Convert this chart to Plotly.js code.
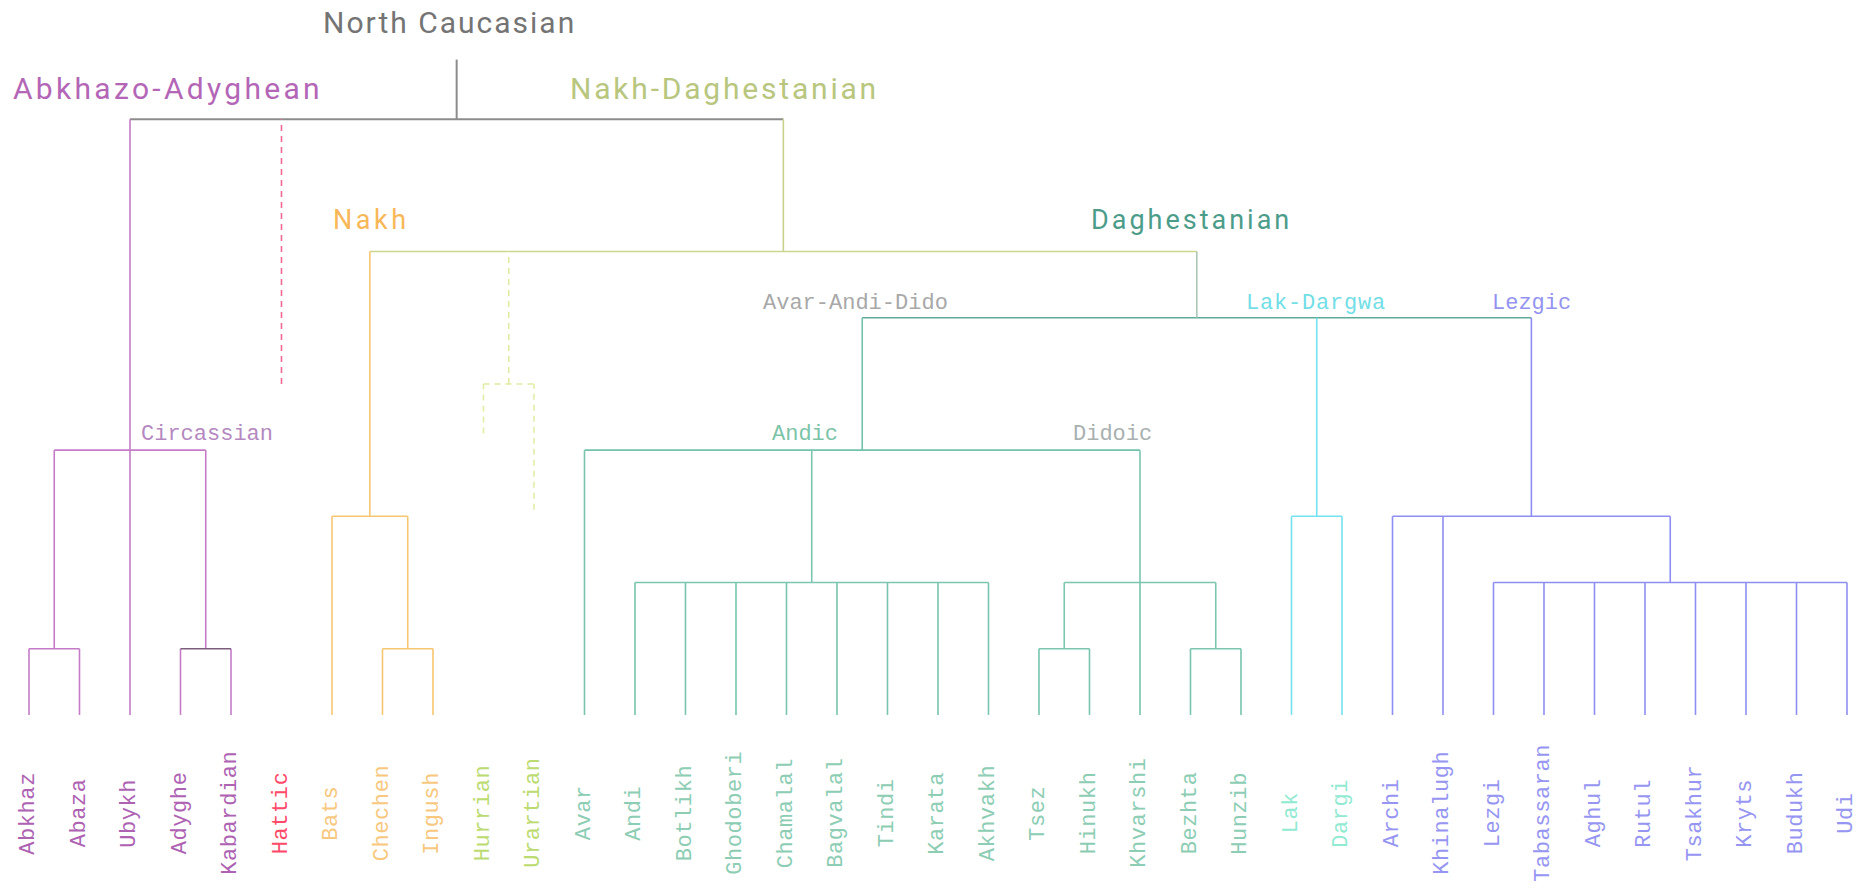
<!DOCTYPE html>
<html><head><meta charset="utf-8">
<script src="https://cdn.plot.ly/plotly-3.0.1.min.js"></script>
<style>html,body{margin:0;padding:0;background:#fff}#chart{width:1868px;height:889px}</style>
</head><body><div id="chart"></div>
<script>
// ---- DATA ----
const leaves = ['Abkhaz','Abaza','Ubykh','Adyghe','Kabardian','Hattic','Bats','Chechen','Ingush','Hurrian','Urartian',
  'Avar','Andi','Botlikh','Ghodoberi','Chamalal','Bagvalal','Tindi','Karata','Akhvakh','Tsez','Hinukh','Khvarshi','Bezhta','Hunzib',
  'Lak','Dargi','Archi','Khinalugh','Lezgi','Tabassaran','Aghul','Rutul','Tsakhur','Kryts','Budukh','Udi'];
const leafGroup = ['AA','AA','AA','AA','AA','Hattic','Nakh','Nakh','Nakh','HU','HU',
  'AAD','AAD','AAD','AAD','AAD','AAD','AAD','AAD','AAD','AAD','AAD','AAD','AAD','AAD',
  'LD','LD','Lez','Lez','Lez','Lez','Lez','Lez','Lez','Lez','Lez','Lez'];
const leafParent = ['AbAb','AbAb','AA','AdKa','AdKa','NC','Nakh','ChIn','ChIn','HU','HU',
  'AAD','Andic','Andic','Andic','Andic','Andic','Andic','Andic','Andic','TsHi','TsHi','Did','BeHu','BeHu',
  'LD','LD','Lez','Lez','LezC','LezC','LezC','LezC','LezC','LezC','LezC','LezC'];
const nodeIds    = ['NC','AA','AbAb','AdKa','ND','Nakh','ChIn','HU','Dagh','AAD','Andic','Did','TsHi','BeHu','LD','Lez','LezC'];
const nodeParent = [null,'NC','AA','AA','NC','ND','Nakh','ND','ND','Dagh','AAD','AAD','Did','Did','Dagh','Dagh','Lez'];
const nodeHeight = [9,4,1,1,7,3,1,5,6,4,2,2,1,1,3,3,2];
const rootTop = 9.9;
// uncertain (dashed) affiliations: line stops at given height
const dashedLeaves = ['Hattic','Hurrian','Urartian'];
const dashedLeafEnd = [5, 4.25, 3.1];
const dashedNodes = ['HU'];

const groupLabels = ['North Caucasian','Abkhazo-Adyghean','Nakh-Daghestanian','Nakh','Daghestanian',
  'Avar-Andi-Dido','Lak-Dargwa','Lezgic','Circassian','Andic','Didoic'];

// ---- STYLE ----
const leafTextColor = {AA:'#ad62b2',Hattic:'#ff4a68',Nakh:'#f8c87e',HU:'#bcdb70',AAD:'#8ccdb4',LD:'#92ead2',Lez:'#9696f2'};
const leafLineColor = {AA:'#c47cc8',Hattic:'#f06a94',Nakh:'#f6c670',HU:'#e4eca6',AAD:'#78c4ae',LD:'#74e2f0',Lez:'#8e8ef2'};
const nodeStyle = {
  NC:{stem:'#8c8c8c',bar:'#8c8c8c',w:2},
  AA:{stem:'#c47cc8',bar:'#c47cc8'}, AbAb:{stem:'#c47cc8',bar:'#c47cc8'}, AdKa:{stem:'#c47cc8',bar:'#7a5e7c'},
  ND:{stem:'#c9d38e',bar:'#cdd68f'}, Nakh:{stem:'#f6c670',bar:'#f6c670'}, ChIn:{stem:'#f6c670',bar:'#f6c670'},
  HU:{stem:'#e2eaa2',bar:'#e2eaa2'},
  Dagh:{stem:'#a9c6b8',bar:'#5eab9a'}, AAD:{stem:'#72c2ac',bar:'#72c2ac'}, Andic:{stem:'#7cc6b0',bar:'#7cc6b0'},
  Did:{stem:'#7cc6b0',bar:'#7cc6b0'}, TsHi:{stem:'#7cc6b0',bar:'#7cc6b0'}, BeHu:{stem:'#7cc6b0',bar:'#7cc6b0'},
  LD:{stem:'#74e2f0',bar:'#74e2f0'}, Lez:{stem:'#8e8ef2',bar:'#8e8ef2'}, LezC:{stem:'#8e8ef2',bar:'#8e8ef2'}
};
const labelStyle = {
  'North Caucasian':{x:8.33,y:10.46,c:'#747474',s:30,f:'big',ls:2},
  'Abkhazo-Adyghean':{x:2.75,y:9.46,c:'#b466b6',s:30,f:'big',ls:3.3},
  'Nakh-Daghestanian':{x:13.78,y:9.46,c:'#b8c67e',s:30,f:'big',ls:2.8},
  'Nakh':{x:6.78,y:7.48,c:'#f8b858',s:27,f:'big',ls:3.5},
  'Daghestanian':{x:23.02,y:7.48,c:'#4c9c8a',s:27,f:'big',ls:3},
  'Avar-Andi-Dido':{x:16.36,y:6.21,c:'#a8a8a8',s:22,f:'mono',ls:0},
  'Lak-Dargwa':{x:25.49,y:6.21,c:'#72dee6',s:22,f:'mono',ls:0.8},
  'Lezgic':{x:29.76,y:6.21,c:'#9494f0',s:22,f:'mono',ls:0},
  'Circassian':{x:3.52,y:4.23,c:'#b488c0',s:22,f:'mono',ls:0},
  'Andic':{x:15.37,y:4.23,c:'#7cc4a8',s:22,f:'mono',ls:0},
  'Didoic':{x:21.45,y:4.23,c:'#a8b0b0',s:22,f:'mono',ls:0}
};
const FONT_BIG = 'Roboto, "Open Sans", sans-serif';
const FONT_MONO = '"Liberation Mono", "DejaVu Sans Mono", monospace';

// ---- BUILD TREE ----
const hOf = {}; nodeIds.forEach((id,i)=>hOf[id]=nodeHeight[i]);
const parentOf = {}; nodeIds.forEach((id,i)=>parentOf[id]=nodeParent[i]);
const childX = {}; nodeIds.forEach(id=>childX[id]=[]);
leaves.forEach((l,i)=>childX[leafParent[i]].push(i));
const xOf = {};
function nodeX(id){
  if (xOf[id]!==undefined) return xOf[id];
  const xs = childX[id].slice();
  nodeIds.forEach((c,i)=>{ if(nodeParent[i]===id) xs.push(nodeX(c)); });
  xOf[id] = (Math.min(...xs)+Math.max(...xs))/2;
  return xOf[id];
}
nodeIds.forEach(nodeX);

const segs = {};
function addSeg(color,dash,w,x0,y0,x1,y1){
  const k=color+'|'+dash+'|'+w;
  if(!segs[k]) segs[k]={color,dash,w,x:[],y:[]};
  segs[k].x.push(x0,x1,null); segs[k].y.push(y0,y1,null);
}
nodeIds.forEach((id,i)=>{
  const st = nodeStyle[id]; const dash = dashedNodes.includes(id)?'6px,5px':'solid'; const w = st.w||1.6;
  const all = childX[id].concat(nodeIds.filter((c,j)=>nodeParent[j]===id).map(c=>xOf[c]));
  addSeg(st.bar,dash,w,Math.min(...all),hOf[id],Math.max(...all),hOf[id]);
  const pTop = parentOf[id]? hOf[parentOf[id]] : rootTop;
  addSeg(st.stem,dash,w,xOf[id],hOf[id],xOf[id],pTop);
});
leaves.forEach((l,i)=>{
  const di = dashedLeaves.indexOf(l);
  const top = hOf[leafParent[i]];
  const bottom = di>=0 ? dashedLeafEnd[di] : 0;
  addSeg(leafLineColor[leafGroup[i]], di>=0?'6px,5px':'solid', 1.6, i, bottom, i, top);
});
const traces = Object.values(segs).map(s=>({type:'scatter',mode:'lines',x:s.x,y:s.y,hoverinfo:'skip',
  line:{color:s.color,width:s.w,dash:s.dash},showlegend:false}));

function spaced(t,ls){ return ls ? '<span style="letter-spacing:'+ls+'px">'+t+'</span>' : t; }
const annotations = [];
leaves.forEach((l,i)=>annotations.push({x:i,y:-1.48,xref:'x',yref:'y',text:spaced(l,0.6),showarrow:false,textangle:-90,
  xanchor:'center',yanchor:'middle',font:{family:FONT_MONO,size:22,color:leafTextColor[leafGroup[i]]}}));
groupLabels.forEach(g=>{const s=labelStyle[g]; annotations.push({x:s.x,y:s.y,xref:'x',yref:'y',text:spaced(g,s.ls),showarrow:false,
  xanchor:'center',yanchor:'middle',font:{family:s.f==='big'?FONT_BIG:FONT_MONO,size:s.s,color:s.c}});});

Plotly.newPlot('chart',traces,{
  width:1868,height:889,margin:{l:0,r:0,t:0,b:0},paper_bgcolor:'#fff',plot_bgcolor:'#fff',
  xaxis:{range:[-0.574,36.416],visible:false,fixedrange:true},
  yaxis:{range:[-2.63,10.8],visible:false,fixedrange:true},
  annotations:annotations
},{displayModeBar:false,staticPlot:true});
</script></body></html>
